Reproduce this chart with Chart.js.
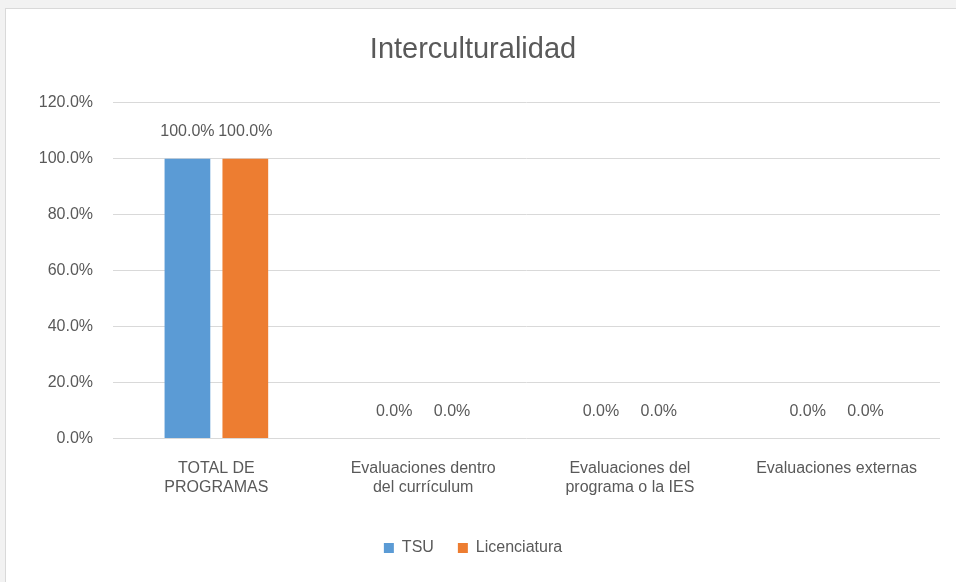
<!DOCTYPE html>
<html>
<head>
<meta charset="utf-8">
<script src="https://cdn.jsdelivr.net/npm/chart.js@4.4.1/dist/chart.umd.min.js"></script>
<style>
  html, body { margin: 0; padding: 0; background: #f2f2f2; }
  #marco {
    position: absolute; left: 5px; top: 8px; width: 955px; height: 580px;
    background: #fff; border: 1px solid #d9d9d9; box-sizing: border-box;
  }
  #grafico { display: block; }
</style>
</head>
<body>
<div id="marco"><canvas id="grafico" width="953" height="578"></canvas></div>
<script>
// Datos del gráfico
const categorias = [
    ["TOTAL DE", "PROGRAMAS"],
    ["Evaluaciones dentro", "del currículum"],
    ["Evaluaciones del", "programa o la IES"],
    "Evaluaciones externas",
];
const valoresTSU = [100, 0, 0, 0];
const valoresLicenciatura = [100, 0, 0, 0];
const nombresSeries = ["TSU", "Licenciatura"];
const coloresSeries = ["#5B9BD5", "#ED7D31"];

const fuente = "'Liberation Sans Narrow', 'Arial Narrow', 'Liberation Sans', sans-serif";
const gris = "#595959";

// Etiquetas de valores encima de cada barra
const etiquetasBarras = {
    id: "etiquetasBarras",
    afterDatasetsDraw(chart) {
        const ctx = chart.ctx;
        ctx.save();
        ctx.font = "16px " + fuente;
        ctx.fillStyle = gris;
        ctx.textAlign = "center";
        ctx.textBaseline = "middle";
        chart.data.datasets.forEach((ds, i) => {
            chart.getDatasetMeta(i).data.forEach((barra, j) => {
                ctx.fillText(ds.data[j].toFixed(1) + "%", barra.x, barra.y - 27);
            });
        });
        ctx.restore();
    },
};

const ctx = document.getElementById("grafico").getContext("2d");

new Chart(ctx, {
    type: "bar",
    data: {
        labels: categorias,
        datasets: [
            {
                label: nombresSeries[0],
                data: valoresTSU,
                backgroundColor: coloresSeries[0],
                barPercentage: 0.79,
                categoryPercentage: 0.56,
            },
            {
                label: nombresSeries[1],
                data: valoresLicenciatura,
                backgroundColor: coloresSeries[1],
                barPercentage: 0.79,
                categoryPercentage: 0.56,
            },
        ],
    },
    options: {
        responsive: false,
        animation: false,
        layout: { padding: { top: 10, right: 19, bottom: 21, left: 0 } },
        plugins: {
            title: {
                display: true,
                text: "Interculturalidad",
                color: gris,
                font: { family: fuente, size: 29, weight: "normal" },
                padding: { top: 14, bottom: 35 },
            },
            legend: {
                position: "bottom",
                labels: {
                    color: gris,
                    font: { family: fuente, size: 16 },
                    boxWidth: 10,
                    boxHeight: 10,
                    padding: 24,
                },
            },
            tooltip: { enabled: false },
        },
        scales: {
            x: {
                grid: { display: false },
                border: { display: false },
                ticks: {
                    color: gris,
                    font: { family: fuente, size: 16 },
                    maxRotation: 0,
                    autoSkip: false,
                    padding: 12,
                },
                afterFit(scale) { scale.height += 7; },
            },
            y: {
                min: 0,
                max: 120,
                ticks: {
                    stepSize: 20,
                    color: gris,
                    font: { family: fuente, size: 16 },
                    padding: 20,
                    callback: (v) => v.toFixed(1) + "%",
                },
                grid: { color: "#d9d9d9", drawTicks: false },
                border: { display: false },
                afterFit(scale) { scale.width = 107; },
            },
        },
    },
    plugins: [etiquetasBarras],
});
</script>
</body>
</html>
